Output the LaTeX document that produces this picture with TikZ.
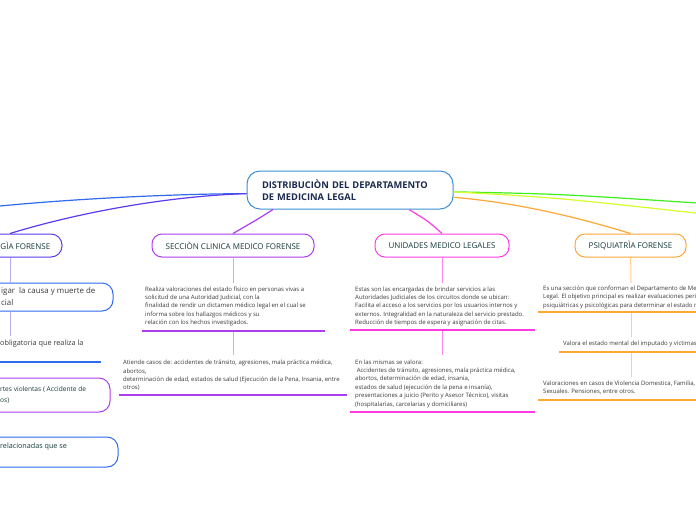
\documentclass[tikz,border=0pt]{standalone}
\usepackage{fontspec}
\setmainfont{Open Sans}
\definecolor{cblue}{HTML}{2F6BEF}
\definecolor{cviolet}{HTML}{5B3CF0}
\definecolor{cpurple}{HTML}{AE3DF0}
\definecolor{cmag}{HTML}{FF3BE6}
\definecolor{cgreen}{HTML}{3DF01E}
\definecolor{cyel}{HTML}{D6FF2E}
\definecolor{corange}{HTML}{FFA733}
\definecolor{cctr}{HTML}{3D8FD6}
\definecolor{navytext}{HTML}{1B2A4E}
\definecolor{ttext}{HTML}{173A3A}
\definecolor{gtext}{HTML}{3A3A3A}
\definecolor{lpurple}{HTML}{D9A6F7}
\definecolor{lmag}{HTML}{FF86F0}
\definecolor{lorange}{HTML}{FFD08A}
\definecolor{lviolet}{HTML}{B9A8F6}
\begin{document}
\begin{tikzpicture}[x=1pt,y=-1pt,
  cbox/.style={draw=cctr, line width=1pt, rounded corners=13pt, fill=white,
    minimum width=206pt, minimum height=38pt, text width=176pt, align=left,
    inner xsep=15pt, inner ysep=0pt, text=navytext,
    font=\bfseries\fontsize{9.3}{12.5}\selectfont},
  lbox/.style={draw, line width=1pt, rounded corners=10pt, fill=white,
    minimum height=23pt, inner sep=0pt, text=ttext,
    font=\fontsize{8}{9}\selectfont},
  ebox/.style={draw, line width=1pt, rounded corners=11pt, fill=white, inner sep=0pt},
  small/.style={font=\fontsize{6}{8.4}\selectfont, text=gtext, align=left,
    inner sep=0pt, anchor=north west},
  conn/.style={line width=1.2pt},
  subl/.style={line width=1pt},
  ul/.style={line width=1.8pt}
]
\useasboundingbox (0,0) rectangle (696,520);
\fill[white] (0,0) rectangle (696,520);
\clip (0,0) rectangle (696,520);

% free ends
\coordinate (offL) at (-5,206.5);
\coordinate (offR1) at (700,203.2);
\coordinate (offR2) at (700,213.5);

% center
\node[cbox] (center) at (350,190) {DISTRIBUCIÒN DEL DEPARTAMENTO\\DE MEDICINA LEGAL};

% level 1 boxes
\node[ebox, draw=cviolet, minimum width=104pt, minimum height=23pt] (tan) at (10,245.5) {};
\node[anchor=east, inner sep=0pt, text=ttext, font=\fontsize{8}{9}\selectfont] (tanl) at (50.5,245.5) {GÌA FORENSE};
\node[lbox, draw=cpurple, minimum width=162pt] (sec) at (233,245.5) {SECCIÒN CLINICA MEDICO FORENSE};
\node[lbox, draw=cmag, minimum width=134pt] (uni) at (442,245.5) {UNIDADES MEDICO LEGALES};
\node[lbox, draw=corange, minimum width=111pt] (psi) at (630.5,245.5) {PSIQUIATRÌA FORENSE};

% main connectors
\draw[conn, cblue] (center.182) .. controls (160,194) and (60,200) .. (offL);
\draw[conn, cviolet] (center.182) .. controls (170,196) and (80,212) .. (tan.north);
\draw[conn, cpurple] ([xshift=-77pt]center.south) .. controls (258,219) .. (sec.north);
\draw[conn, cmag] ([xshift=59pt]center.south) .. controls (428,221) .. (uni.north);
\draw[conn, cgreen] (center.-1) .. controls (560,194) .. (offR1);
\draw[conn, cyel] (center.-1.5) .. controls (560,198) .. (offR2);
\draw[conn, corange] (center.-4) .. controls (520,203) and (580,218) .. (psi.north);

% ---- SECCION CLINICA
\coordinate (s1a) at (233,283);
\draw[subl, lpurple] (sec) -- (s1a);
\node[small] (s1t) at (145,286.3) {Realiza valoraciones del estado físico en personas vivas a\\solicitud de una Autoridad Judicial, con la\\finalidad de rendir un dictamen médico legal en el cual se\\informa sobre los hallazgos médicos y su\\relación con los hechos investigados.};
\coordinate (s1u1) at (142,331);
\coordinate (s1u2) at (325,331);
\draw[ul, cpurple] (s1u1) -- (s1u2);
\coordinate (s2a) at (233,332);
\coordinate (s2b) at (233,355);
\draw[subl, lpurple] (s2a) -- (s2b);
\node[small] (s2t) at (123,359.8) {Atiende casos de: accidentes de tránsito, agresiones, mala práctica médica,\\abortos,\\determinación de edad, estados de salud (Ejecución de la Pena, Insania, entre\\otros)};
\coordinate (s2u1) at (119,395);
\coordinate (s2u2) at (347,395);
\draw[ul, cpurple] (s2u1) -- (s2u2);

% ---- UNIDADES
\coordinate (u1a) at (442,283);
\draw[subl, lmag] (uni) -- (u1a);
\node[small] (u1t) at (355,286.3) {Estas son las encargadas de brindar servicios a las\\Autoridades Judiciales de los circuitos donde se ubican:\\Facilita el acceso a los servicios por los usuarios internos y\\externos. Integralidad en la naturaleza del servicio prestado.\\Reducción de tiempos de espera y asignación de citas.};
\coordinate (u1u1) at (350,330);
\coordinate (u1u2) at (535,330);
\draw[ul, cmag] (u1u1) -- (u1u2);
\coordinate (u2a) at (442,331);
\coordinate (u2b) at (442,355);
\draw[subl, lmag] (u2a) -- (u2b);
\node[small] (u2t) at (355,359.3) {En las mismas se valora:\\\ Accidentes de tránsito, agresiones, mala práctica médica,\\abortos, determinación de edad, insania,\\estados de salud (ejecución de la pena e insanía),\\presentaciones a juicio (Perito y Asesor Técnico), visitas\\(hospitalarias, carcelarias y domiciliares)};
\coordinate (u2u1) at (350,412);
\coordinate (u2u2) at (535,412);
\draw[ul, cmag] (u2u1) -- (u2u2);

% ---- PSIQUIATRIA
\coordinate (p1a) at (631,283);
\draw[subl, lorange] (psi) -- (p1a);
\node[small] (p1t) at (543,285.6) {Es una sección que conforman el Departamento de Me\\Legal. El objetivo principal es realizar evaluaciones peri\\psiquiátricas y psicológicas para determinar el estado m};
\coordinate (p1u1) at (538,312);
\coordinate (p1u2) at (700,312);
\draw[ul, corange] (p1u1) -- (p1u2);
\coordinate (p2a) at (631,313);
\coordinate (p2b) at (631,337);
\draw[subl, lorange] (p2a) -- (p2b);
\node[small] (p2t) at (563,341) {Valora el estado mental del imputado y victimas};
\coordinate (p2u1) at (559,352);
\coordinate (p2u2) at (700,352);
\draw[ul, corange] (p2u1) -- (p2u2);
\coordinate (p3a) at (631,353);
\coordinate (p3b) at (631,377);
\draw[subl, lorange] (p3a) -- (p3b);
\node[small] (p3t) at (543,380.3) {Valoraciones en casos de Violencia Domestica, Familia,\\Sexuales. Pensiones, entre otros.};
\coordinate (p3u1) at (538,400);
\coordinate (p3u2) at (700,400);
\draw[ul, corange] (p3u1) -- (p3u2);

% ---- LEFT (TANATOLOGIA)
\node[ebox, draw=cblue, minimum width=173pt, minimum height=28pt] (lb1) at (26.5,297) {};
\draw[subl, lviolet] (tan.south) -- (tan.south |- lb1.north);
\node[anchor=west, inner sep=0pt, align=left, text=gtext, font=\fontsize{7.9}{12}\selectfont] (lb1t) at (1,296.5) {igar\ \ la causa y muerte de\\cial};
\coordinate (l2a) at (10,336);
\draw[subl, lviolet] (lb1.south -| l2a) -- (l2a);
\node[anchor=west, inner sep=0pt, text=gtext, font=\fontsize{7.3}{8}\selectfont] (l2t) at (0,344) {obligatoria que realiza la};
\coordinate (l2u1) at (-5,362);
\coordinate (l2u2) at (101,362);
\draw[ul, cblue] (l2u1) -- (l2u2);
\node[ebox, draw=cpurple, minimum width=170pt, minimum height=34pt] (lb2) at (25,395) {};
\node[anchor=west, inner sep=0pt, align=left, text=ttext, font=\fontsize{6.6}{11}\selectfont] (lb2t) at (0,395.5) {rtes violentas ( Accidente de\\os)};
\node[ebox, draw=cblue, minimum width=178pt, minimum height=30pt] (lb3) at (29,452) {};
\node[anchor=west, inner sep=0pt, text=ttext, font=\fontsize{7.2}{8}\selectfont] (lb3t) at (0,447) {relacionadas que se};
\end{tikzpicture}
\end{document}
